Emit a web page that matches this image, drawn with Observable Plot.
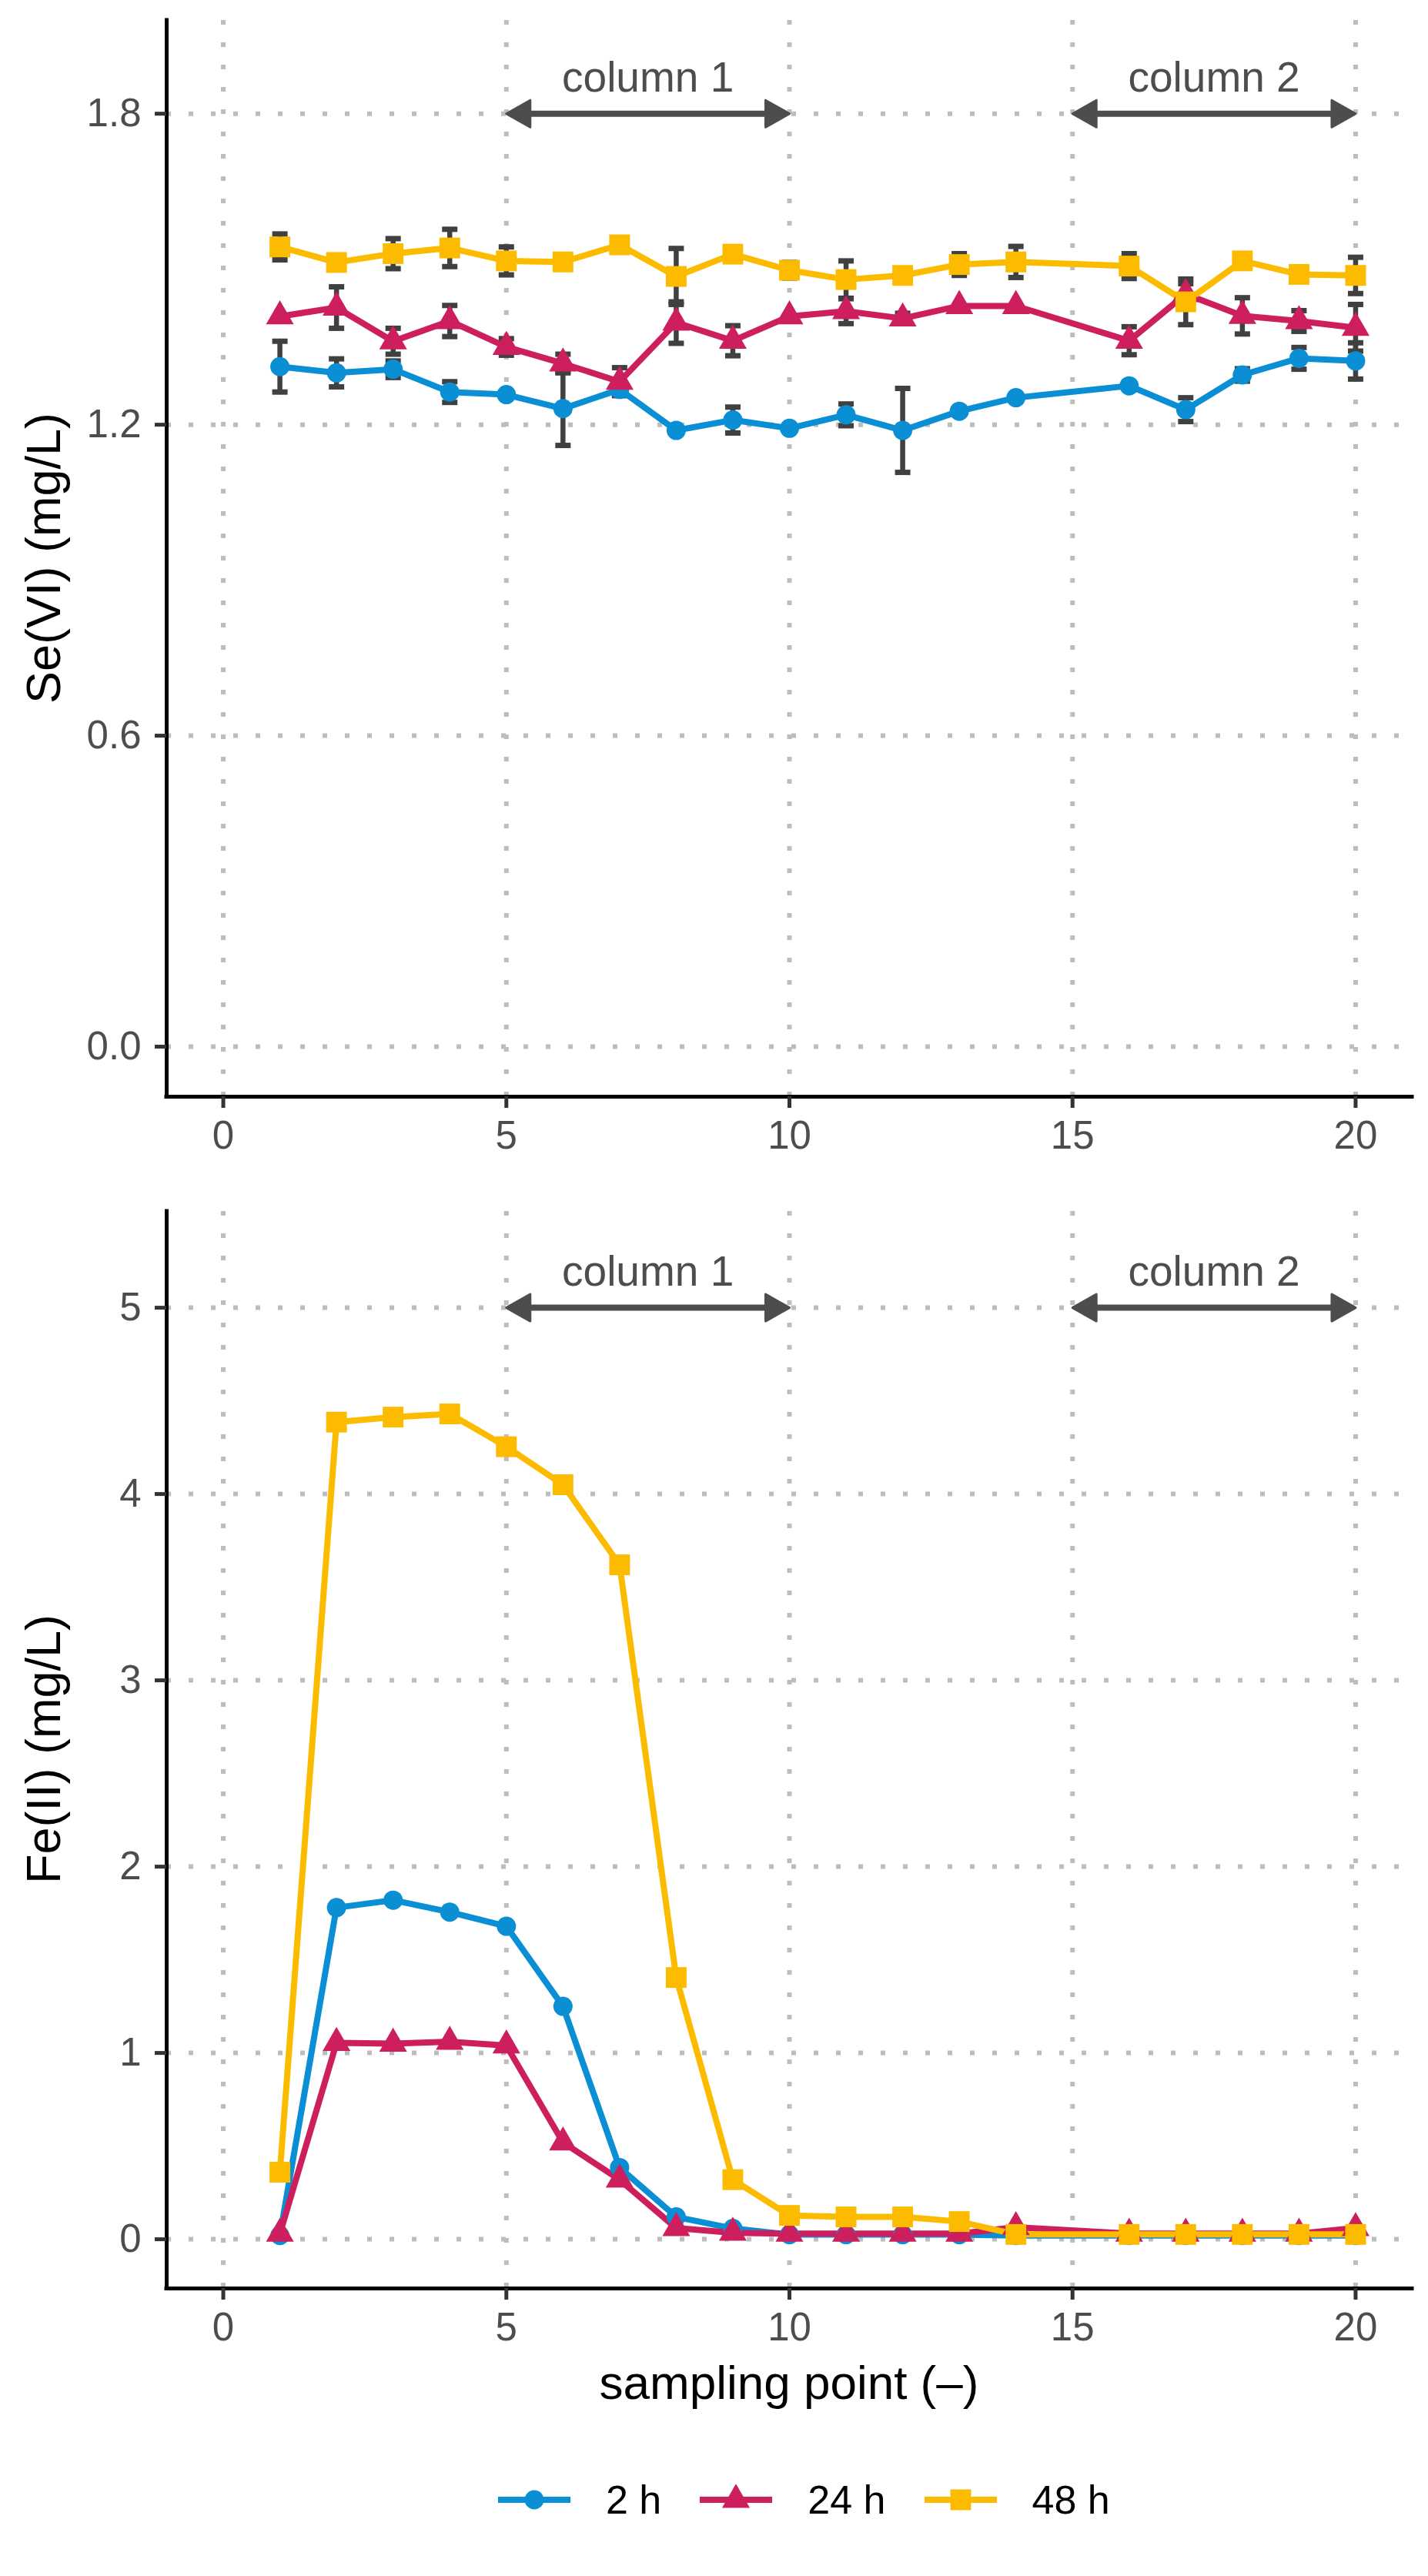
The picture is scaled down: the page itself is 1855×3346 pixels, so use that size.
<!DOCTYPE html>
<html>
<head>
<meta charset="utf-8">
<script src="https://cdn.jsdelivr.net/npm/d3@7"></script>
<script src="https://cdn.jsdelivr.net/npm/@observablehq/plot@0.6"></script>
<style>
html, body { margin: 0; padding: 0; background: #ffffff; }
#page { position: relative; width: 1855px; height: 3346px; background: #ffffff;
  font-family: "Liberation Sans", Arial, Helvetica, sans-serif; }
#top, #bottom { position: absolute; left: 0; }
#top { top: 0px; }
#bottom { top: 1545px; }
.ytitle { position: absolute; width: 600px; height: 62px; font-size: 63px; line-height: 62px;
  text-align: center; white-space: nowrap; color: #000; transform: rotate(-90deg); transform-origin: 50% 50%; }
#xtitle { position: absolute; left: 216px; width: 1618px; top: 3064px; font-size: 62px; line-height: 62px;
  text-align: center; color: #000; white-space: nowrap; }
#legend { position: absolute; left: 647px; top: 3221px; height: 52px; display: flex; align-items: center;
  font-size: 52px; line-height: 52px; color: #000; white-space: nowrap; }
#legend .key { display: block; margin-right: 46px; }
#legend .lab { margin-right: 50px; }
</style>
</head>
<body>
<div id="page">
  <div id="top"></div>
  <div id="bottom"></div>
  <div class="ytitle" id="ytitle1"></div>
  <div class="ytitle" id="ytitle2"></div>
  <div id="xtitle"></div>
  <div id="legend"></div>
</div>
<script>
// ---------------- data ----------------
const samplingPoints = [1, 2, 3, 4, 5, 6, 7, 8, 9, 10, 11, 12, 13, 14, 16, 17, 18, 19, 20];
const seriesNames = ["2 h", "24 h", "48 h"];
const seriesColors = ["#0b8fd4", "#cd1f5d", "#fdbb00"];

// Se(VI) (mg/L), mean and half error bar
const se2h  = [1.312, 1.300, 1.307, 1.263, 1.258, 1.231, 1.268, 1.189, 1.209, 1.193, 1.219, 1.189, 1.226, 1.252, 1.275, 1.229, 1.296, 1.328, 1.323];
const se2hErr  = [0.049, 0.027, 0.016, 0.020, 0.005, 0.071, 0.010, 0, 0.025, 0, 0.021, 0.081, 0, 0, 0, 0.023, 0.012, 0.021, 0.035];
const se24h = [1.409, 1.426, 1.361, 1.400, 1.350, 1.318, 1.283, 1.397, 1.362, 1.409, 1.419, 1.405, 1.429, 1.429, 1.362, 1.452, 1.410, 1.400, 1.387];
const se24hErr = [0, 0.040, 0.025, 0.030, 0.016, 0.018, 0.027, 0.040, 0.029, 0, 0.024, 0.010, 0, 0, 0.027, 0.020, 0.035, 0.020, 0.045];
const se48h = [1.543, 1.513, 1.530, 1.541, 1.516, 1.514, 1.547, 1.486, 1.529, 1.498, 1.480, 1.488, 1.509, 1.514, 1.506, 1.437, 1.516, 1.490, 1.488];
const se48hErr = [0.025, 0, 0.029, 0.036, 0.027, 0, 0, 0.054, 0, 0.015, 0.036, 0, 0.021, 0.030, 0.024, 0.044, 0, 0, 0.035];

// Fe(II) (mg/L)
const fe2h  = [0.02, 1.78, 1.82, 1.756, 1.68, 1.25, 0.385, 0.12, 0.058, 0.025, 0.025, 0.025, 0.025, 0.02, 0.02, 0.02, 0.02, 0.02, 0.02];
const fe24h = [0.03, 1.054, 1.05, 1.06, 1.04, 0.52, 0.32, 0.06, 0.035, 0.03, 0.03, 0.03, 0.03, 0.065, 0.03, 0.03, 0.03, 0.03, 0.06];
const fe48h = [0.36, 4.386, 4.413, 4.43, 4.254, 4.05, 3.62, 1.405, 0.32, 0.128, 0.12, 0.12, 0.095, 0.026, 0.026, 0.026, 0.026, 0.026, 0.026];

// column annotations
const columnStarts = [5, 15];
const columnEnds = [10, 20];
const columnLabels = ["column 1", "column 2"];

// axes
const xTicks = [0, 5, 10, 15, 20];
const seTicks = [0, 0.6, 1.2, 1.8];
const feTicks = [0, 1, 2, 3, 4, 5];
const seTitle = "Se(VI) (mg/L)";
const feTitle = "Fe(II) (mg/L)";
const xTitle = "sampling point (\u2013)";

// ---------------- helpers ----------------
const FONT = '"Liberation Sans", Arial, Helvetica, sans-serif';
const symbolNames = ["circle", "triangle", "square"];
const symbolRadii = [12.5, 13.4, 15.2];
const d3Symbols = [d3.symbolCircle, d3.symbolTriangle, d3.symbolSquare];

function tidy(valueArrays, errArrays) {
  const rows = [];
  samplingPoints.forEach((p, i) => {
    seriesNames.forEach((s, k) => {
      rows.push({x: p, y: valueArrays[k][i], err: errArrays ? errArrays[k][i] : 0, s});
    });
  });
  return rows;
}

const headL = 31, headH = 35;
const leftHead = {draw(ctx) { ctx.moveTo(0, 0); ctx.lineTo(headL, -headH / 2); ctx.lineTo(headL, headH / 2); ctx.closePath(); }};
const rightHead = {draw(ctx) { ctx.moveTo(0, 0); ctx.lineTo(-headL, -headH / 2); ctx.lineTo(-headL, headH / 2); ctx.closePath(); }};
const capSymbol = {draw(ctx) { ctx.moveTo(-10, 0); ctx.lineTo(10, 0); }};

function panel({rows, yDomain, yTicks, yFormat, height, marginTop, marginBottom, arrowY, withErrors}) {
  const xDomain = [-1, 21];
  const arrows = columnStarts.map((s, i) => ({x1: s, x2: columnEnds[i], label: columnLabels[i], y: arrowY}));
  const errRows = withErrors ? rows.filter(d => d.err > 0) : [];
  const marks = [
    Plot.gridX(xTicks, {stroke: "#bdbdbd", strokeOpacity: 1, strokeWidth: 6, strokeDasharray: "6,23"}),
    Plot.gridY(yTicks, {stroke: "#bdbdbd", strokeOpacity: 1, strokeWidth: 6, strokeDasharray: "6,23"}),
    Plot.ruleX([xDomain[0]], {stroke: "#000", strokeWidth: 5, strokeLinecap: "square"}),
    Plot.ruleY([yDomain[0]], {stroke: "#000", strokeWidth: 5, strokeLinecap: "square"}),
    // annotations
    Plot.arrow(arrows, {x1: "x1", x2: "x2", y1: "y", y2: "y", stroke: "#4d4d4d", strokeWidth: 8,
      headLength: 0, insetStart: 14, insetEnd: 14, strokeLinecap: "butt"}),
    Plot.dot(arrows, {x: "x1", y: "y", symbol: leftHead, fill: "#4d4d4d", stroke: "#4d4d4d", strokeWidth: 3, strokeLinejoin: "round"}),
    Plot.dot(arrows, {x: "x2", y: "y", symbol: rightHead, fill: "#4d4d4d", stroke: "#4d4d4d", strokeWidth: 3, strokeLinejoin: "round"}),
    Plot.text(arrows, {x: d => (d.x1 + d.x2) / 2, y: "y", text: "label", dy: -29, lineAnchor: "bottom",
      textAnchor: "middle", fontSize: 55, fill: "#4d4d4d", fontFamily: FONT}),
  ];
  if (errRows.length) {
    marks.push(
      Plot.ruleX(errRows, {x: "x", y1: d => d.y - d.err, y2: d => d.y + d.err, stroke: "#404040", strokeWidth: 6.5}),
      Plot.dot(errRows, {x: "x", y: d => d.y - d.err, symbol: capSymbol, fill: "none", stroke: "#404040", strokeWidth: 7}),
      Plot.dot(errRows, {x: "x", y: d => d.y + d.err, symbol: capSymbol, fill: "none", stroke: "#404040", strokeWidth: 7})
    );
  }
  marks.push(Plot.line(rows, {x: "x", y: "y", z: "s", stroke: "s", strokeWidth: 8, strokeLinejoin: "round"}));
  seriesNames.forEach((s, k) => {
    marks.push(Plot.dot(rows.filter(d => d.s === s), {x: "x", y: "y", symbol: symbolNames[k], r: symbolRadii[k],
      fill: seriesColors[k], stroke: "none"}));
  });
  marks.push(
    Plot.axisX({ticks: xTicks, tickSize: 15, tickPadding: 16, fontSize: 51, stroke: "#333333", fill: "#4d4d4d",
      strokeWidth: 5, label: null, fontFamily: FONT}),
    Plot.axisY({ticks: yTicks, tickFormat: yFormat, tickSize: 15, tickPadding: 18, fontSize: 51, stroke: "#333333",
      fill: "#4d4d4d", strokeWidth: 5, label: null, fontFamily: FONT})
  );
  return Plot.plot({
    width: 1855, height, marginLeft: 216, marginRight: 21, marginTop, marginBottom,
    x: {domain: xDomain},
    y: {domain: yDomain},
    color: {domain: seriesNames, range: seriesColors},
    style: {fontFamily: FONT, background: "transparent", overflow: "visible"},
    marks
  });
}

const seRows = tidy([se2h, se24h, se48h], [se2hErr, se24hErr, se48hErr]);
const feRows = tidy([fe2h, fe24h, fe48h], null);

document.getElementById("top").appendChild(panel({
  rows: seRows, yDomain: [-0.0965, 1.98], yTicks: seTicks, yFormat: d3.format(".1f"),
  height: 1545, marginTop: 26, marginBottom: 121, arrowY: 1.8, withErrors: true
}));
document.getElementById("bottom").appendChild(panel({
  rows: feRows, yDomain: [-0.264, 5.517], yTicks: feTicks, yFormat: d3.format("d"),
  height: 1535, marginTop: 28, marginBottom: 108, arrowY: 5, withErrors: false
}));

// titles
const yt1 = document.getElementById("ytitle1");
yt1.textContent = seTitle;
yt1.style.left = (56 - 300) + "px"; yt1.style.top = (725 - 31) + "px";
const yt2 = document.getElementById("ytitle2");
yt2.textContent = feTitle;
yt2.style.left = (56 - 300) + "px"; yt2.style.top = (2272 - 31) + "px";
document.getElementById("xtitle").textContent = xTitle;

// legend
const legend = d3.select("#legend");
seriesNames.forEach((s, k) => {
  const svg = legend.append("svg").attr("class", "key").attr("width", 94).attr("height", 40);
  svg.append("line").attr("x1", 0).attr("x2", 94).attr("y1", 20).attr("y2", 20)
    .attr("stroke", seriesColors[k]).attr("stroke-width", 8);
  svg.append("path").attr("transform", "translate(47,20)")
    .attr("d", d3.symbol(d3Symbols[k], Math.PI * symbolRadii[k] * symbolRadii[k])())
    .attr("fill", seriesColors[k]);
  legend.append("span").attr("class", "lab").text(s);
});
</script>
</body>
</html>
